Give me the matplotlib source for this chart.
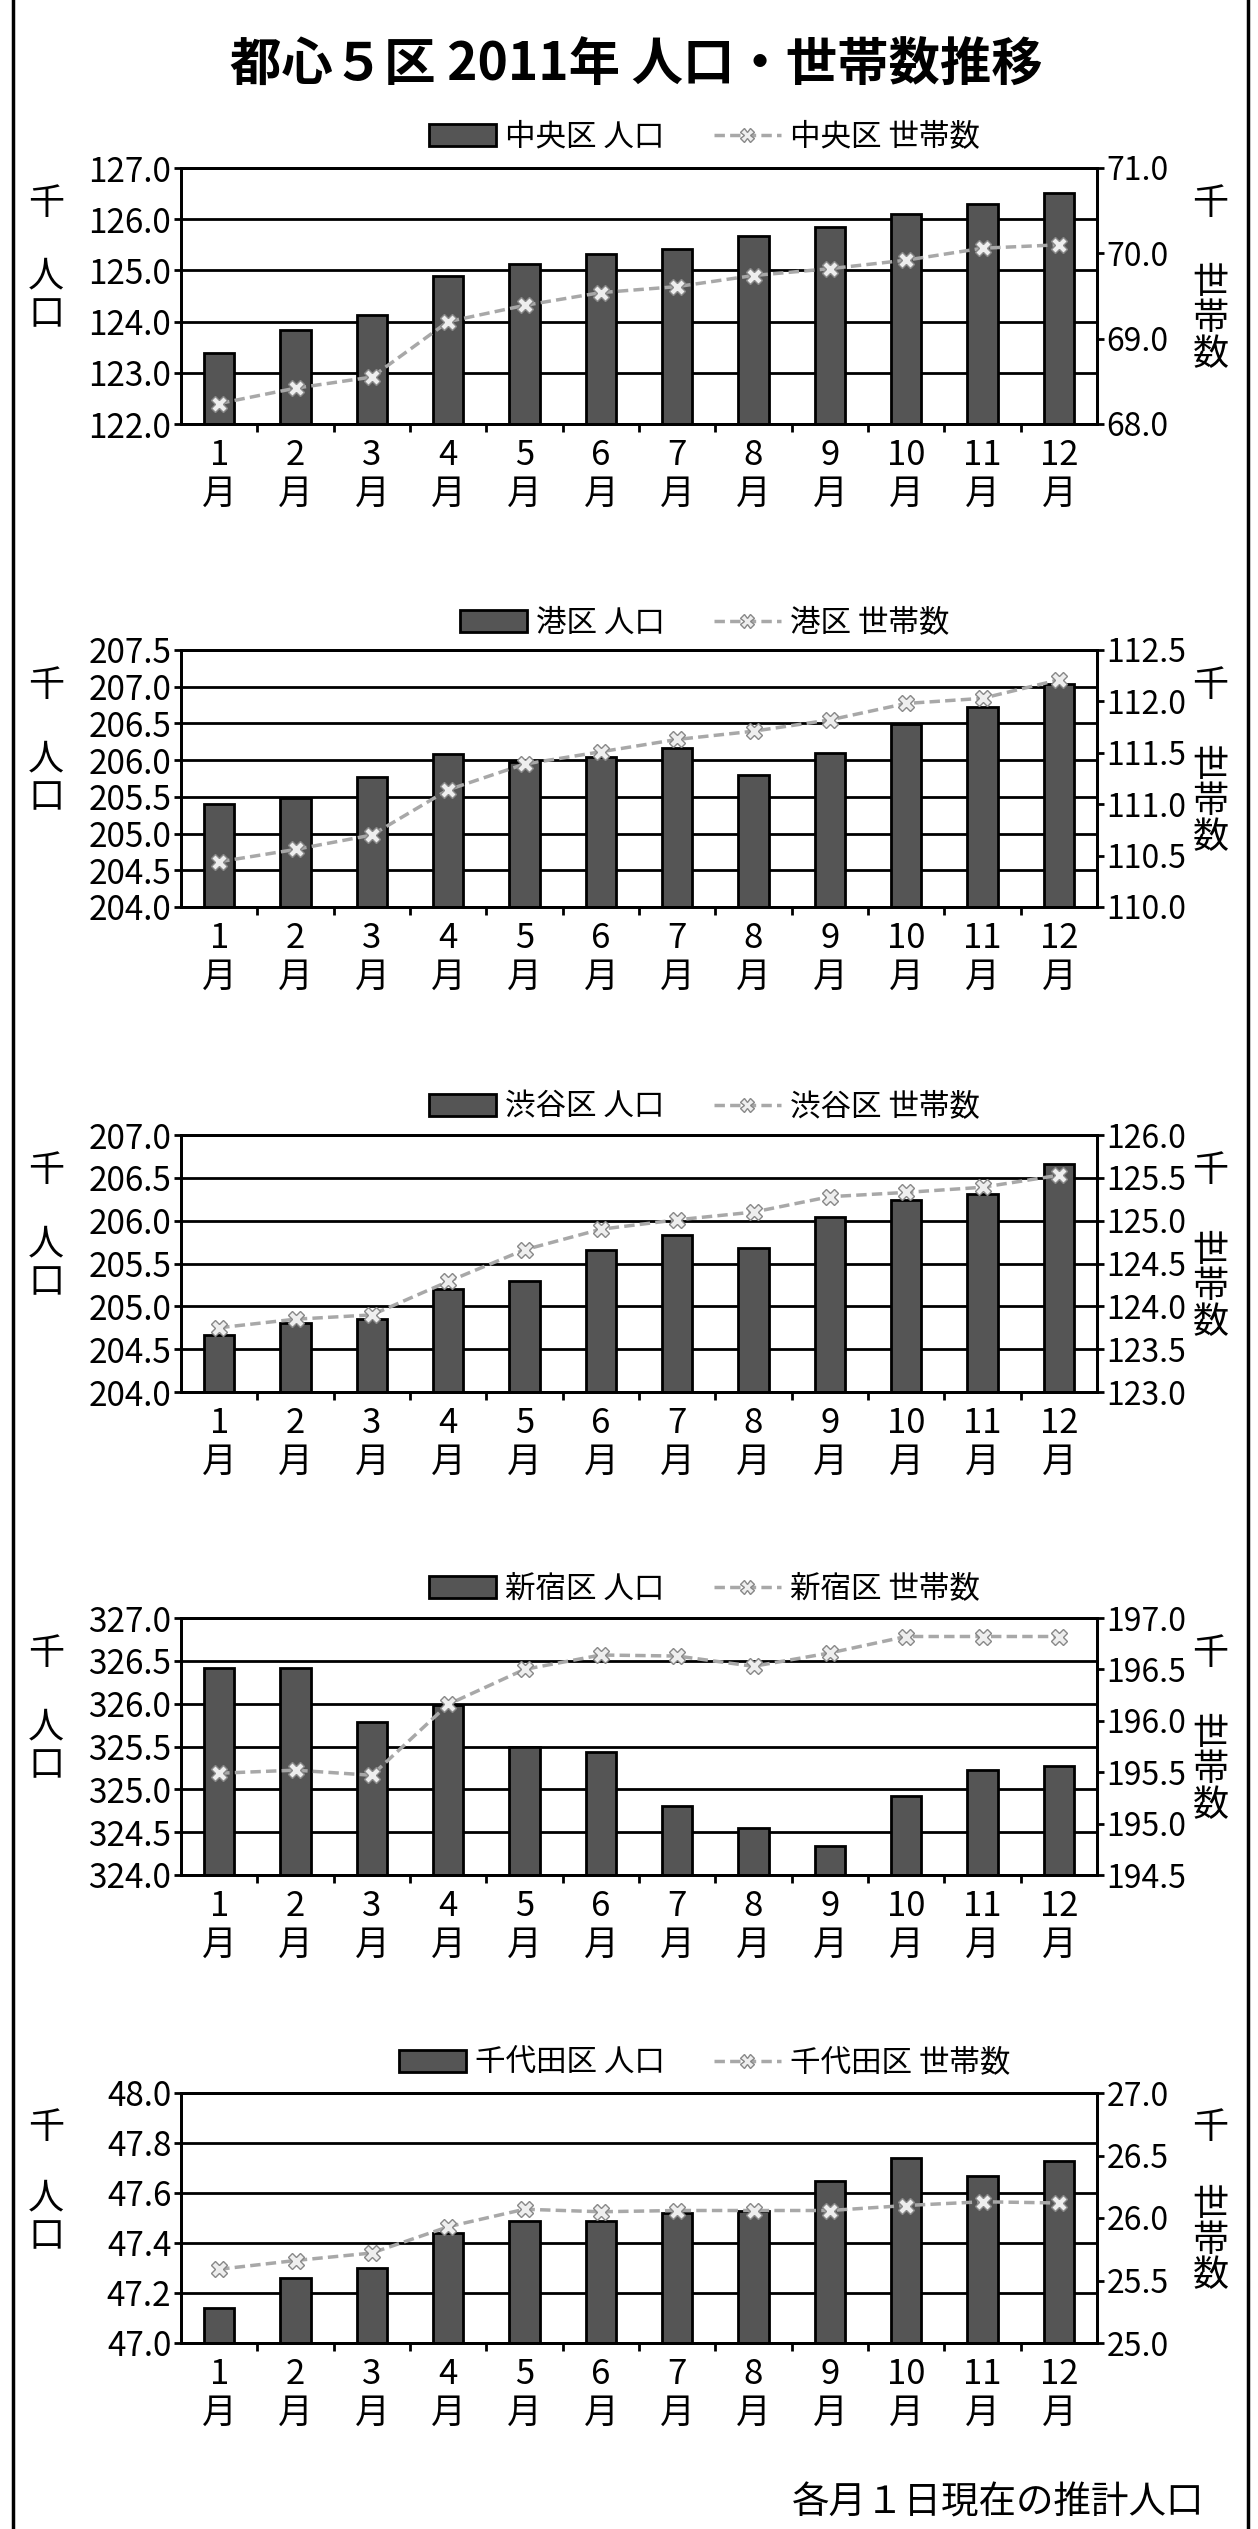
import numpy as np
import matplotlib
matplotlib.use("Agg")
from matplotlib import pyplot as plt
from matplotlib.lines import Line2D
from matplotlib.patches import Patch

plt.rcParams['font.family'] = ['Noto Sans CJK JP', 'DejaVu Sans']

# data (thousands)
months = [str(m) + "\n月" for m in range(1, 13)]
wards = ["中央区", "港区", "渋谷区", "新宿区", "千代田区"]

pop_chuo = [123.39, 123.83, 124.13, 124.89, 125.12, 125.33, 125.41, 125.68, 125.85, 126.10, 126.30, 126.51]
hh_chuo = [68.24, 68.42, 68.55, 69.20, 69.39, 69.54, 69.61, 69.74, 69.82, 69.92, 70.06, 70.10]

pop_minato = [205.40, 205.48, 205.77, 206.08, 205.98, 206.04, 206.17, 205.80, 206.10, 206.49, 206.73, 207.04]
hh_minato = [110.44, 110.56, 110.70, 111.14, 111.39, 111.51, 111.63, 111.71, 111.82, 111.98, 112.03, 112.21]

pop_shibuya = [204.66, 204.80, 204.85, 205.20, 205.29, 205.66, 205.83, 205.68, 206.04, 206.24, 206.31, 206.66]
hh_shibuya = [123.75, 123.85, 123.90, 124.29, 124.66, 124.90, 125.01, 125.10, 125.28, 125.33, 125.39, 125.53]

pop_shinjuku = [326.42, 326.42, 325.79, 325.99, 325.49, 325.43, 324.80, 324.55, 324.34, 324.92, 325.22, 325.27]
hh_shinjuku = [195.49, 195.52, 195.47, 196.16, 196.50, 196.64, 196.63, 196.53, 196.66, 196.82, 196.82, 196.82]

pop_chiyoda = [47.14, 47.26, 47.30, 47.44, 47.49, 47.49, 47.52, 47.53, 47.65, 47.74, 47.67, 47.73]
hh_chiyoda = [25.59, 25.66, 25.72, 25.93, 26.07, 26.05, 26.06, 26.06, 26.06, 26.10, 26.13, 26.12]

pops = [pop_chuo, pop_minato, pop_shibuya, pop_shinjuku, pop_chiyoda]
hhs = [hh_chuo, hh_minato, hh_shibuya, hh_shinjuku, hh_chiyoda]

left_ticks = [np.arange(122, 127.01, 1.0), np.arange(204, 207.51, 0.5), np.arange(204, 207.01, 0.5),
              np.arange(324, 327.01, 0.5), np.arange(47, 48.01, 0.2)]
right_ticks = [np.arange(68, 71.01, 1.0), np.arange(110, 112.51, 0.5), np.arange(123, 126.01, 0.5),
               np.arange(194.5, 197.01, 0.5), np.arange(25, 27.01, 0.5)]

W, H = 1258, 2529
fig = plt.figure(figsize=(W / 100, H / 100), dpi=100)

# panel positions in pixels (top, bottom) and legend y
panel_px = [(168, 424), (650, 907), (1135, 1392), (1618, 1875), (2093, 2343)]
legend_px = [137, 623, 1107, 1589, 2063]
ax_l, ax_r = 181, 1097

bar_col = "#555555"
line_col = "#a8a8a8"

x = np.arange(1, 13)
for i in range(5):
    top, bot = panel_px[i]
    ax = fig.add_axes([ax_l / W, 1 - bot / H, (ax_r - ax_l) / W, (bot - top) / H])
    ax.bar(x, pops[i], width=0.4, color=bar_col, edgecolor="black", linewidth=2, zorder=2)
    ax.set_xlim(0.5, 12.5)
    lt = left_ticks[i]
    ax.set_ylim(lt[0], lt[-1])
    ax.set_yticks(lt)
    ax.set_yticklabels(["%.1f" % v for v in lt])
    ax.yaxis.grid(True, color="black", linewidth=2)
    ax.set_axisbelow(True)
    ax.set_xticks(x)
    ax.set_xticklabels(months, fontsize=25, linespacing=1.15)
    ax.set_xticks(np.arange(1.5, 12.5, 1), minor=True)
    ax.tick_params(axis="x", which="major", length=0, pad=10)
    ax.tick_params(axis="x", which="minor", length=6, width=2, direction="out")
    ax.tick_params(axis="y", length=5, width=2, labelsize=24, pad=2)
    for s in ax.spines.values():
        s.set_linewidth(2)

    ax2 = ax.twinx()
    ax2.plot(x, hhs[i], color=line_col, linestyle=(0, (3, 1.5)), linewidth=2.5,
             marker="X", markersize=11, markerfacecolor="#eeeeee", markeredgecolor="#888888", zorder=3)
    rt = right_ticks[i]
    ax2.set_ylim(rt[0], rt[-1])
    ax2.set_yticks(rt)
    ax2.set_yticklabels(["%.1f" % v for v in rt])
    ax2.tick_params(axis="y", length=5, width=2, labelsize=23, pad=2)
    for s in ax2.spines.values():
        s.set_linewidth(2)

    # unit labels
    ax.text(-0.147, 0.86, "千", transform=ax.transAxes, fontsize=26, ha="center", va="center")
    ax.text(-0.147, 0.50, "人\n口", transform=ax.transAxes, fontsize=26, ha="center", va="center",
            linespacing=1.1)
    ax.text(1.124, 0.86, "千", transform=ax.transAxes, fontsize=26, ha="center", va="center")
    ax.text(1.124, 0.41, "世\n帯\n数", transform=ax.transAxes, fontsize=26, ha="center", va="center",
            linespacing=1.0)

    handles = [Patch(facecolor=bar_col, edgecolor="black", linewidth=2),
               Line2D([0], [0], color=line_col, linestyle=(0, (3, 1.5)), linewidth=2.5, marker="X",
                      markersize=10, markerfacecolor="#eeeeee", markeredgecolor="#888888")]
    fig.legend(handles, [wards[i] + " 人口", wards[i] + " 世帯数"], loc="center",
               bbox_to_anchor=(0.56, 1 - legend_px[i] / H), ncol=2, frameon=False,
               fontsize=22, handlelength=2.2, handletextpad=0.3, columnspacing=1.6)

fig.text(0.506, 1 - 65 / H, "都心５区 2011年 人口・世帯数推移", ha="center", va="center",
         fontsize=37, fontweight="bold")
fig.text(1204 / W, 1 - 2503 / H, "各月１日現在の推計人口", ha="right", va="center", fontsize=27)

# outer frame lines
fig.add_artist(Line2D([13 / W, 13 / W], [0, 1], color="black", linewidth=2.5))
fig.add_artist(Line2D([1248 / W, 1248 / W], [0, 1], color="black", linewidth=2.5))

fig.savefig("out.png", dpi=100, facecolor="white")
